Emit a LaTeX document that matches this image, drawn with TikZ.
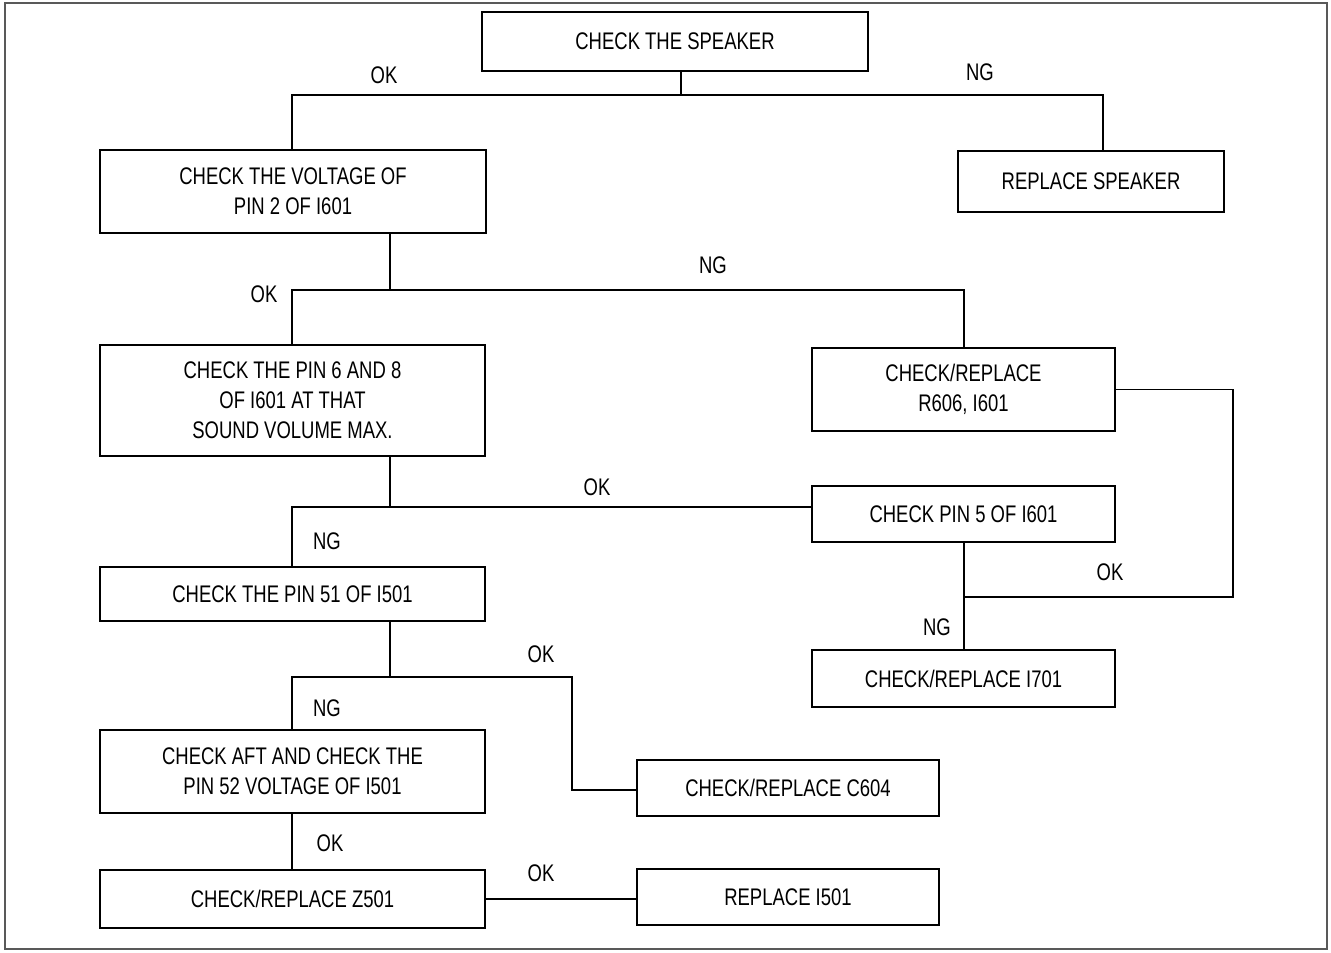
\documentclass[tikz,border=0pt]{standalone}
\usepackage{fontspec}
\setmainfont{Liberation Sans}[FakeStretch=0.77]
\usetikzlibrary{fit}
\begin{document}
\begin{tikzpicture}[x=0.5pt,y=-0.5pt,
  every node/.style={font=\fontsize{12}{15}\selectfont},
  box/.style={draw, line width=0.6pt, inner sep=0pt},
  txt/.style={align=center, inner sep=0pt},
  conn/.style={line width=0.7pt},
  lbl/.style={inner sep=0pt}]
\useasboundingbox (0,0) rectangle (1331,952);
\draw[black!65, line width=0.6pt] (5,3) rectangle (1327,949);
% boxes
\node[box, fit={(482,12)(868,71)}] (spk) {};
\node[box, fit={(100,150)(486,233)}] (volt) {};
\node[box, fit={(958,151)(1224,212)}] (rspk) {};
\node[box, fit={(100,345)(485,456)}] (b68) {};
\node[box, fit={(812,348)(1115,431)}] (r606) {};
\node[box, fit={(812,486)(1115,542)}] (pin5) {};
\node[box, fit={(812,650)(1115,707)}] (i701) {};
\node[box, fit={(100,567)(485,621)}] (pin51) {};
\node[box, fit={(100,730)(485,813)}] (aft) {};
\node[box, fit={(637,760)(939,816)}] (c604) {};
\node[box, fit={(100,870)(485,928)}] (z501) {};
\node[box, fit={(637,869)(939,925)}] (i501) {};
% box texts
\node[txt] (spk-t) at (spk.center) {CHECK THE SPEAKER};
\node[txt] (volt-t) at (volt.center) {CHECK THE VOLTAGE OF\\PIN 2 OF I601};
\node[txt] (rspk-t) at (rspk.center) {REPLACE SPEAKER};
\node[txt] (b68-t) at (b68.center) {CHECK THE PIN 6 AND 8\\OF I601 AT THAT\\SOUND VOLUME MAX.};
\node[txt] (r606-t) at (r606.center) {CHECK/REPLACE\\R606, I601};
\node[txt] (pin5-t) at (pin5.center) {CHECK PIN 5 OF I601};
\node[txt] (i701-t) at (i701.center) {CHECK/REPLACE I701};
\node[txt] (pin51-t) at (pin51.center) {CHECK THE PIN 51 OF I501};
\node[txt] (aft-t) at (aft.center) {CHECK AFT AND CHECK THE\\PIN 52 VOLTAGE OF I501};
\node[txt] (c604-t) at (c604.center) {CHECK/REPLACE C604};
\node[txt] (z501-t) at (z501.center) {CHECK/REPLACE Z501};
\node[txt] (i501-t) at (i501.center) {REPLACE I501};
% junctions
\coordinate (j1) at (681,95);
\coordinate (j2) at (390,290);
\coordinate (j3) at (390,507);
\coordinate (j4) at (964,597);
\coordinate (j5) at (390,677);
% connectors
\draw[conn] (spk.south -| j1) -- (j1) -| (volt.north -| 292,0);
\draw[conn] (j1) -| (rspk.north -| 1103,0);
\draw[conn] (volt.south -| j2) -- (j2) -| (b68.north -| 292,0);
\draw[conn] (j2) -| (r606.north -| 964,0);
\draw[conn] (b68.south -| j3) -- (j3) -| (pin51.north -| 292,0);
\draw[conn] (j3) -- (pin5.west |- j3);
\draw[conn] (r606.east) -| (1233,597) -- (j4);
\draw[conn] (pin5.south -| j4) -- (i701.north -| j4);
\draw[conn] (pin51.south -| j5) -- (j5) -| (aft.north -| 292,0);
\draw[conn] (j5) -| (572,790) -- (c604.west |- 0,790);
\draw[conn] (aft.south -| 292,0) -- (z501.north -| 292,0);
\draw[conn] (z501.east) -- (i501.west |- z501.east);
% labels
\node[lbl] (l1) at (384,75) {OK};
\node[lbl] (l2) at (980,72) {NG};
\node[lbl] (l3) at (264,294) {OK};
\node[lbl] (l4) at (713,265) {NG};
\node[lbl] (l5) at (597,487) {OK};
\node[lbl] (l6) at (327,541) {NG};
\node[lbl] (l7) at (1110,572) {OK};
\node[lbl] (l8) at (937,627) {NG};
\node[lbl] (l9) at (541,654) {OK};
\node[lbl] (l10) at (327,708) {NG};
\node[lbl] (l11) at (330,843) {OK};
\node[lbl] (l12) at (541,873) {OK};
\end{tikzpicture}
\end{document}
